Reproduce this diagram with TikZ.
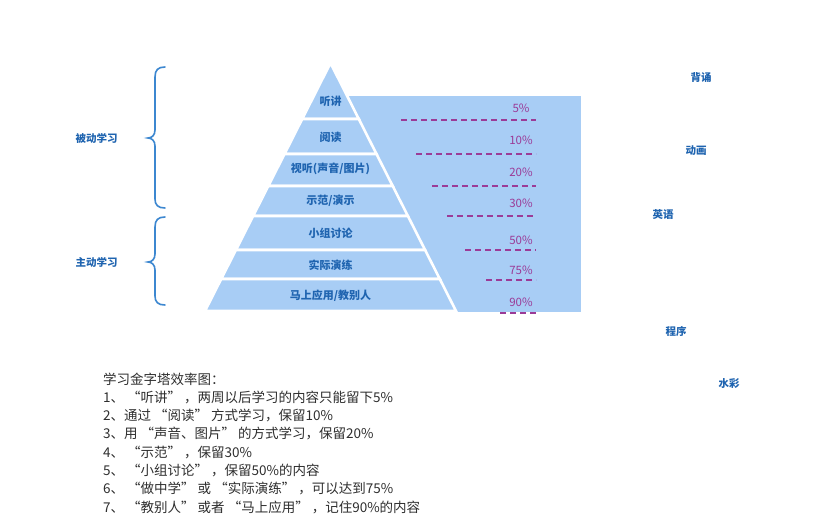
\documentclass[tikz,border=0pt]{standalone}
\usepackage{fontspec}
\setmainfont{Noto Sans CJK SC}
\definecolor{pyr}{HTML}{A8CDF5}
\definecolor{pct}{HTML}{9B3B97}
\definecolor{lbl}{HTML}{1F64B0}
\definecolor{bracec}{HTML}{3C87D0}
\definecolor{bodyc}{HTML}{2E2E2E}
\tikzset{
  band/.style={fill=pyr, draw=white, line width=2.6pt, line join=miter},
  plabel/.style={font=\fontsize{11}{13}\selectfont\bfseries, text=lbl, inner sep=0pt},
  pctlabel/.style={font=\fontsize{11.5}{13}\selectfont, text=pct, inner sep=0pt},
  dashline/.style={draw=pct, line width=1.2pt, dash pattern=on 6pt off 4pt},
  sidelabel/.style={font=\fontsize{10.5}{12}\selectfont\bfseries, text=lbl, inner sep=0pt},
  bracepath/.style={draw=bracec, line width=1.6pt, line cap=round},
  bodytext/.style={font=\fontsize{13.5}{15}\selectfont, text=bodyc, inner sep=0pt, anchor=west},
}
\begin{document}
\begin{tikzpicture}[x=1pt,y=-1pt]
\useasboundingbox (0,0) rectangle (817,528);
\fill[white] (0,0) rectangle (817,528);
% right panel
\fill[pyr] (340,96) rectangle (581,312);
% pyramid bands
\path[band] (330.5,63) -- (358.8,119) -- (302.2,119) -- cycle;
\path[band] (302.2,119) -- (358.8,119) -- (376.5,154) -- (284.5,154) -- cycle;
\path[band] (284.5,154) -- (376.5,154) -- (392.7,186) -- (268.3,186) -- cycle;
\path[band] (268.3,186) -- (392.7,186) -- (407.9,216) -- (253.1,216) -- cycle;
\path[band] (253.1,216) -- (407.9,216) -- (425.1,250) -- (235.9,250) -- cycle;
\path[band] (235.9,250) -- (425.1,250) -- (439.8,279) -- (221.2,279) -- cycle;
\path[band] (221.2,279) -- (439.8,279) -- (456,311) -- (205,311) -- cycle;
% pyramid labels
\node[plabel] (p1) at (330.5,101) {听讲};
\node[plabel] (p2) at (330.5,137) {阅读};
\node[plabel] (p3) at (330.5,169) {视听(声音/图片)};
\node[plabel] (p4) at (330.5,201) {示范/演示};
\node[plabel] (p5) at (330.5,233) {小组讨论};
\node[plabel] (p6) at (330.5,265) {实际演练};
\node[plabel] (p7) at (330.5,296) {马上应用/教别人};
% dashed lines
\coordinate (d1a) at (401,120);   \coordinate (d1b) at (536,120);
\coordinate (d2a) at (416,154);   \coordinate (d2b) at (536,154);
\coordinate (d3a) at (432,186);   \coordinate (d3b) at (536,186);
\coordinate (d4a) at (447,216);   \coordinate (d4b) at (536,216);
\coordinate (d5a) at (465,250);   \coordinate (d5b) at (536,250);
\coordinate (d6a) at (486,280);   \coordinate (d6b) at (536,280);
\coordinate (d7a) at (500,313);   \coordinate (d7b) at (536,313);
\foreach \i in {1,...,7} { \draw[dashline] (d\i a) -- (d\i b); }
% percent labels
\node[pctlabel] (q1) at (521,108) {5\%};
\node[pctlabel] (q2) at (521,140) {10\%};
\node[pctlabel] (q3) at (521,172) {20\%};
\node[pctlabel] (q4) at (521,203) {30\%};
\node[pctlabel] (q5) at (521,240) {50\%};
\node[pctlabel] (q6) at (521,270) {75\%};
\node[pctlabel] (q7) at (521,302) {90\%};
% braces
\draw[bracepath] (165,67) .. controls (158,67) and (155,70) .. (155,77) -- (155,130)
  .. controls (155,135) and (152,138) .. (148,138)
  .. controls (152,138) and (155,141) .. (155,146) -- (155,199)
  .. controls (155,205) and (158,208) .. (165,208);
\draw[bracepath] (165,217) .. controls (158,217) and (155,220) .. (155,227) -- (155,254)
  .. controls (155,259) and (152,262) .. (148,262)
  .. controls (152,262) and (155,265) .. (155,270) -- (155,296)
  .. controls (155,302) and (158,305) .. (165,305);
\node[sidelabel] (passive) at (96.5,138) {被动学习};
\node[sidelabel] (active) at (96.5,262) {主动学习};
% right side labels
\node[sidelabel] (r1) at (701,78) {背诵};
\node[sidelabel] (r2) at (696,151) {动画};
\node[sidelabel] (r3) at (663,215) {英语};
\node[sidelabel] (r4) at (676,331) {程序};
\node[sidelabel] (r5) at (729,384) {水彩};
% body text
\node[bodytext] (t0) at (103,379.0) {学习金字塔效率图：};
\node[bodytext] (t1) at (103,397.3) {1、 “听讲” ，两周以后学习的内容只能留下5\%};
\node[bodytext] (t2) at (103,415.6) {2、通过 “阅读” 方式学习，保留10\%};
\node[bodytext] (t3) at (103,433.9) {3、用 “声音、图片” 的方式学习，保留20\%};
\node[bodytext] (t4) at (103,452.2) {4、 “示范” ，保留30\%};
\node[bodytext] (t5) at (103,470.5) {5、 “小组讨论” ，保留50\%的内容};
\node[bodytext] (t6) at (103,488.8) {6、 “做中学” 或 “实际演练” ，可以达到75\%};
\node[bodytext] (t7) at (103,507.1) {7、 “教别人” 或者 “马上应用” ，记住90\%的内容};
\end{tikzpicture}
\end{document}
